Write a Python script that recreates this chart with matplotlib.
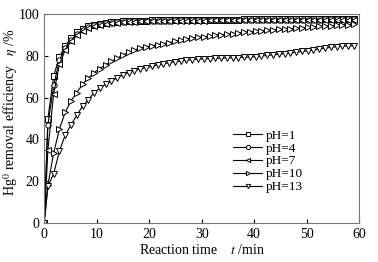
import matplotlib
matplotlib.use("Agg")
import matplotlib.pyplot as plt

# ---------- data ----------
time_min = [0, 0.7, 1.8, 2.9, 4.0, 5.1, 6.2, 7.3, 8.4, 9.5,
            10.6, 11.7, 12.8, 13.9, 15.0, 16.1, 17.2, 18.3, 19.4, 20.5,
            21.6, 22.7, 23.8, 24.9, 26.0, 27.1, 28.2, 29.3, 30.4, 31.5,
            32.6, 33.7, 34.8, 35.9, 37.0, 38.1, 39.2, 40.3, 41.4, 42.5,
            43.6, 44.7, 45.8, 46.9, 48.0, 49.1, 50.2, 51.3, 52.4, 53.5,
            54.6, 55.7, 56.8, 57.9, 59.0]

eff_ph1 = [0, 50.0, 70.5, 79.5, 85.0, 88.5, 91.5, 93.0, 94.2, 95.0,
           95.6, 96.0, 96.3, 96.5, 96.7, 96.8, 96.9, 97.0, 97.0, 97.1,
           97.1, 97.2, 97.2, 97.2, 97.3, 97.3, 97.3, 97.4, 97.4, 97.4,
           97.4, 97.5, 97.5, 97.5, 97.5, 97.6, 97.6, 97.6, 97.6, 97.7,
           97.7, 97.7, 97.7, 97.8, 97.8, 97.8, 97.8, 97.9, 97.9, 97.9,
           97.9, 98.0, 98.0, 98.0, 98.0]

eff_ph4 = [0, 47.0, 66.0, 78.0, 84.0, 87.5, 90.5, 92.5, 93.8, 94.7,
           95.3, 95.8, 96.1, 96.3, 96.5, 96.6, 96.7, 96.8, 96.9, 96.9,
           97.0, 97.0, 97.0, 97.1, 97.1, 97.1, 97.1, 97.2, 97.2, 97.2,
           97.2, 97.2, 97.3, 97.3, 97.3, 97.3, 97.3, 97.4, 97.4, 97.4,
           97.4, 97.4, 97.4, 97.5, 97.5, 97.5, 97.5, 97.5, 97.5, 97.6,
           97.6, 97.6, 97.6, 97.6, 97.6]

eff_ph7 = [0, 35.0, 62.0, 76.0, 83.0, 87.0, 90.0, 92.0, 93.3, 94.3,
           95.0, 95.4, 95.8, 96.0, 96.2, 96.4, 96.5, 96.6, 96.7, 96.7,
           96.8, 96.8, 96.9, 96.9, 96.9, 97.0, 97.0, 97.0, 97.0, 97.1,
           97.1, 97.1, 97.1, 97.1, 97.2, 97.2, 97.2, 97.2, 97.2, 97.3,
           97.3, 97.3, 97.3, 97.3, 97.4, 97.4, 97.4, 97.4, 97.4, 97.5,
           97.5, 97.5, 97.5, 97.5, 97.5]

eff_ph10 = [0, 18.0, 33.5, 45.0, 53.0, 58.5, 62.5, 66.5, 69.5, 72.0,
            74.0, 75.8, 77.5, 79.0, 80.5, 81.8, 83.0, 83.8, 84.5, 85.0,
            85.5, 86.0, 86.5, 87.0, 87.5, 88.2, 88.6, 89.0, 89.3, 89.6,
            89.9, 90.2, 90.5, 90.8, 91.1, 91.4, 91.7, 92.0, 92.2, 92.4,
            92.6, 92.8, 93.0, 93.2, 93.4, 93.6, 93.8, 94.0, 94.2, 94.4,
            94.6, 94.8, 95.0, 95.1, 95.2]

eff_ph13 = [0, 17.5, 23.5, 34.5, 42.0, 47.0, 51.5, 56.0, 59.0, 62.5,
            64.5, 66.5, 68.0, 69.5, 71.0, 72.0, 73.0, 73.8, 74.5, 75.0,
            75.8, 76.3, 76.8, 77.2, 77.6, 78.0, 78.3, 78.5, 78.7, 78.8,
            78.9, 79.0, 79.1, 79.2, 79.3, 79.4, 79.5, 79.7, 80.0, 80.3,
            80.6, 80.9, 81.2, 81.5, 81.8, 82.2, 82.6, 83.0, 83.4, 83.8,
            84.2, 84.5, 84.7, 84.9, 85.0]

labels = ["pH=1", "pH=4", "pH=7", "pH=10", "pH=13"]
markers = ["s", "o", "<", ">", "v"]
# ----------------------------------------------------

plt.rcParams["font.family"] = ["Liberation Serif", "DejaVu Serif"]
plt.rcParams["mathtext.fontset"] = "stix"
plt.rcParams["font.size"] = 10

fig = plt.figure(figsize=(3.78, 2.62), dpi=100)
ax = fig.add_axes([0.117, 0.150, 0.833, 0.795])

series = [eff_ph1, eff_ph4, eff_ph7, eff_ph10, eff_ph13]
for vals, lab, mk in zip(series, labels, markers):
    ax.plot(time_min, vals, color="black", lw=0.8, marker=mk, ms=3.8,
            mfc="white", mec="black", mew=0.7, label=lab)

ax.set_xlim(0, 60)
ax.set_ylim(0, 100)
ax.set_xticks([0, 10, 20, 30, 40, 50, 60])
ax.set_yticks([0, 20, 40, 60, 80, 100])
ax.tick_params(direction="in", length=3, width=0.8, colors="black",
               labelsize=10, top=False, right=False)
for sp in ax.spines.values():
    sp.set_color("#777777")
    sp.set_linewidth(0.8)

ax.set_xlabel(r"Reaction time    $t$ /min", fontsize=10, labelpad=2)
ax.set_ylabel(r"Hg$^0$ removal efficiency   $\eta$ /%", fontsize=10)
# pin the y label so it stays inside the figure (x is its right edge)
ax.yaxis.set_label_coords(-0.078, 0.53)

ax.legend(loc="upper left", bbox_to_anchor=(0.60, 0.448), frameon=False,
          fontsize=9.5, handlelength=2.2, handletextpad=0.3,
          labelspacing=0.05, borderaxespad=0, borderpad=0,
          markerscale=0.8)

fig.savefig("out.png", dpi=100)
